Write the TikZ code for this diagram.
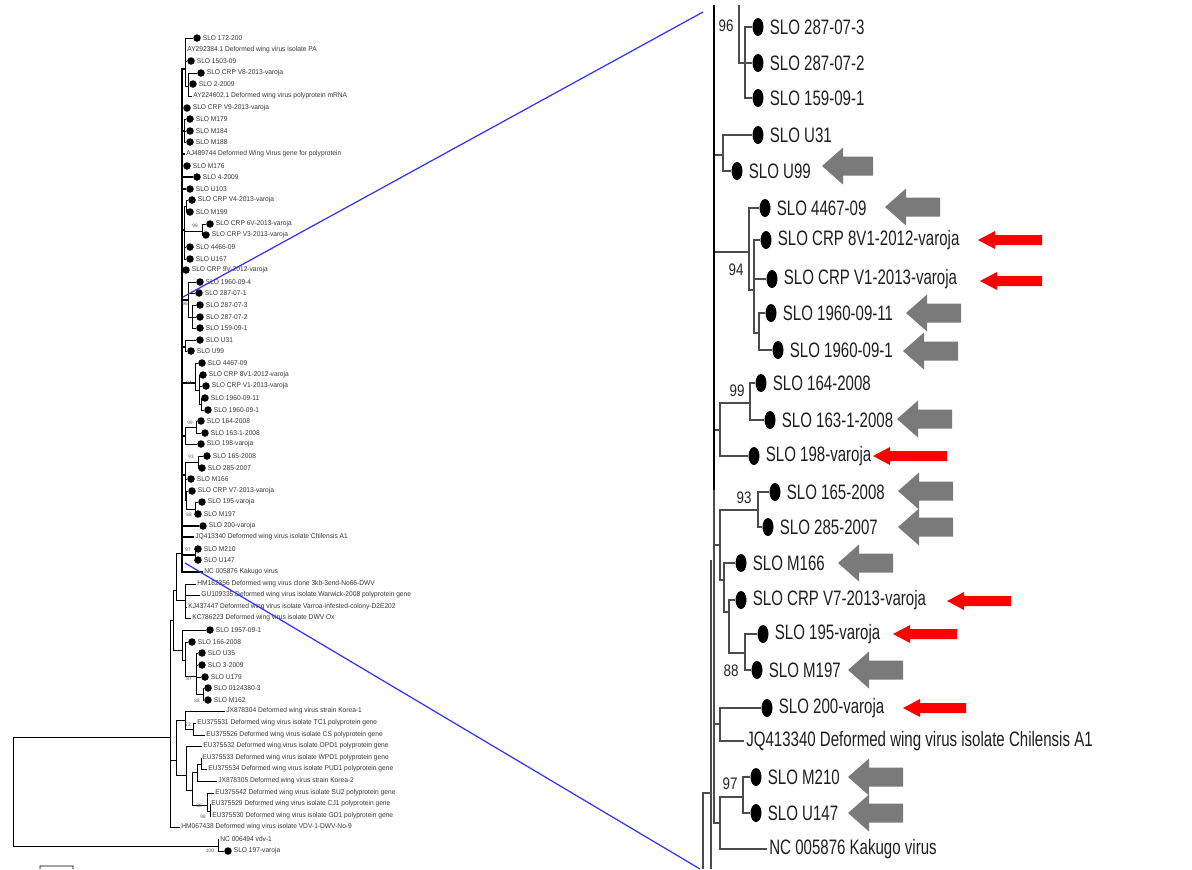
\documentclass[tikz,border=0pt]{standalone}
\usepackage{fontspec}
\setmainfont{Liberation Sans}
\newfontfamily\rfam[FakeStretch=0.72]{Liberation Sans}
\newfontfamily\bfam[FakeStretch=0.8]{Liberation Sans}
\newfontfamily\lfam[FakeStretch=0.95]{Liberation Sans}
\newcommand\rsz{\rfam\fontsize{11.9pt}{13pt}\selectfont}
\newcommand\bsz{\bfam\fontsize{9.5pt}{10pt}\selectfont}
\newcommand\lsz{\lfam\fontsize{3.97pt}{4.5pt}\selectfont}
\newcommand\lbsz{\lfam\fontsize{2.8pt}{3pt}\selectfont}
\usetikzlibrary{shapes.geometric}
\tikzset{
 lb/.style={line width=0.5pt, black},
 lbk/.style={line width=0.9pt, black},
 ldot/.style={circle, fill=black, inner sep=0pt, minimum size=0.15cm},
 ltxt/.style={anchor=west, inner sep=0pt, font=\lsz, text=black!78},
 lbs/.style={font=\lbsz, text=black!65, inner sep=0pt},
 rb/.style={line width=0.6pt, black!70},
 rmain/.style={line width=1.1pt, black},
 rdot/.style={ellipse, fill=black, inner sep=0pt, minimum width=0.22cm, minimum height=0.36cm},
 rtxt/.style={anchor=west, inner sep=0pt, font=\rsz, text=black!88},
 rbs/.style={font=\bsz, inner sep=0pt, text=black!85},
 garrow/.style={fill=black!52},
 rarrow/.style={fill=red},
 zoomline/.style={blue!80, line width=0.7pt}
}
\newcommand\Ld[4]{\node[ldot] (#1) at (#2,#3) {}; \node[ltxt] (#1t) at ([xshift=0.11cm]#1.center) {#4};}
\newcommand\Lt[4]{\node[ltxt, inner xsep=0.02cm] (#1) at (#2-1,#3) {#4};}
\newcommand\Rd[4]{\node[rdot] (#1) at (#2,#3) {}; \node[rtxt] (#1t) at ([xshift=0.23cm]#1.center) {#4};}
\newcommand\Rt[4]{\node[rtxt, inner xsep=0.05cm] (#1) at (#2-2.5,#3) {#4};}
\newcommand\garr[3]{\fill[garrow] (#1,#2) -- ++(21,-18.5) -- ++(0,9) -- ++(#3-21,0) -- ++(0,19) -- ++(21-#3,0) -- ++(0,9) -- cycle;}
\newcommand\rarr[3]{\fill[rarrow] (#1,#2) -- ++(17,-9) -- ++(0,4) -- ++(#3-17,0) -- ++(0,10) -- ++(17-#3,0) -- ++(0,4) -- cycle;}
\begin{document}
\begin{tikzpicture}[x=0.02cm, y=-0.02cm]
\useasboundingbox (0,0) rectangle (1192,869);
\fill[white] (0,0) rectangle (1192,869);

% ---------------- LEFT TREE: leaves ----------------
\Ld{l1}{197}{38}{SLO 172-200}
\Lt{l2}{187}{50}{AY292384.1 Deformed wing virus isolate PA}
\Ld{l3}{191}{61}{SLO 1503-09}
\Ld{l4}{201}{73}{SLO CRP V8-2013-varoja}
\Ld{l5}{193}{84}{SLO 2-2009}
\Lt{l6}{193}{96}{AY224602.1 Deformed wing virus polyprotein mRNA}
\Ld{l7}{187}{108}{SLO CRP V9-2013-varoja}
\Ld{l8}{190}{119}{SLO M179}
\Ld{l9}{190}{131}{SLO M184}
\Ld{l10}{190}{142}{SLO M188}
\Lt{l11}{186}{154}{AJ489744 Deformed Wing Virus gene for polyprotein}
\Ld{l12}{187}{166}{SLO M176}
\Ld{l13}{197}{177}{SLO 4-2009}
\Ld{l14}{190}{189}{SLO U103}
\Ld{l15}{192}{200}{SLO CRP V4-2013-varoja}
\Ld{l16}{190}{212}{SLO M199}
\Ld{l17}{210}{224}{SLO CRP 6V-2013-varoja}
\Ld{l18}{206}{235}{SLO CRP V3-2013-varoja}
\Ld{l19}{190}{247}{SLO 4466-09}
\Ld{l20}{190}{259}{SLO U167}
\Ld{l21}{186}{270}{SLO CRP 9V-2012-varoja}
\Ld{l22}{200}{282}{SLO 1960-09-4}
\Ld{l23}{199}{293}{SLO 287-07-1}
\Ld{l24}{200}{305}{SLO 287-07-3}
\Ld{l25}{200}{317}{SLO 287-07-2}
\Ld{l26}{200}{328}{SLO 159-09-1}
\Ld{l27}{200}{340}{SLO U31}
\Ld{l28}{191}{351}{SLO U99}
\Ld{l29}{202}{363}{SLO 4467-09}
\Ld{l30}{203}{375}{SLO CRP 8V1-2012-varoja}
\Ld{l31}{206}{386}{SLO CRP V1-2013-varoja}
\Ld{l32}{205}{398}{SLO 1960-09-11}
\Ld{l33}{208}{410}{SLO 1960-09-1}
\Ld{l34}{201}{421}{SLO 164-2008}
\Ld{l35}{205}{433}{SLO 163-1-2008}
\Ld{l36}{201}{444}{SLO 198-varoja}
\Ld{l37}{207}{456}{SLO 165-2008}
\Ld{l38}{202}{468}{SLO 285-2007}
\Ld{l39}{191}{479}{SLO M166}
\Ld{l40}{192}{491}{SLO CRP V7-2013-varoja}
\Ld{l41}{202}{502}{SLO 195-varoja}
\Ld{l42}{198}{514}{SLO M197}
\Ld{l43}{203}{526}{SLO 200-varoja}
\Lt{l44}{195}{537}{JQ413340 Deformed wing virus isolate Chilensis A1}
\Ld{l45}{198}{549}{SLO M210}
\Ld{l46}{198}{560}{SLO U147}
\Lt{l47}{204}{572}{NC 005876 Kakugo virus}
\Lt{l48}{197}{584}{HM162356 Deformed wing virus clone 3kb-3end-No66-DWV}
\Lt{l49}{201}{595}{GU109335 Deformed wing virus isolate Warwick-2008 polyprotein gene}
\Lt{l50}{188}{607}{KJ437447 Deformed wing virus isolate Varroa-infested-colony-D2E202}
\Lt{l51}{192}{618}{KC786223 Deformed wing virus isolate DWV Ox}
\Ld{l52}{210}{630}{SLO 1957-09-1}
\Ld{l53}{192}{642}{SLO 166-2008}
\Ld{l54}{202}{653}{SLO U35}
\Ld{l55}{202}{665}{SLO 3-2009}
\Ld{l56}{205}{677}{SLO U179}
\Ld{l57}{208}{688}{SLO 0124380-3}
\Ld{l58}{208}{700}{SLO M162}
\Lt{l59}{226}{711}{JX878304 Deformed wing virus strain Korea-1}
\Lt{l60}{197}{723}{EU375531 Deformed wing virus isolate TC1 polyprotein gene}
\Lt{l61}{206}{735}{EU375526 Deformed wing virus isolate CS polyprotein gene}
\Lt{l62}{203}{746}{EU375532 Deformed wing virus isolate OPD1 polyprotein gene}
\Lt{l63}{202}{758}{EU375533 Deformed wing virus isolate WPD1 polyprotein gene}
\Lt{l64}{208}{769}{EU375534 Deformed wing virus isolate PUD1 polyprotein gene}
\Lt{l65}{218}{781}{JX878305 Deformed wing virus strain Korea-2}
\Lt{l66}{215}{793}{EU375542 Deformed wing virus isolate SU2 polyprotein gene}
\Lt{l67}{211}{804}{EU375529 Deformed wing virus isolate CJ1 polyprotein gene}
\Lt{l68}{212}{816}{EU375530 Deformed wing virus isolate GD1 polyprotein gene}
\Lt{l69}{181}{827}{HM067438 Deformed wing virus isolate VDV-1-DWV-No-9}
\Lt{l70}{220}{839}{NC 006494 vdv-1}
\Ld{l71}{228}{851}{SLO 197-varoja}

% ---------------- LEFT TREE: internal nodes ----------------
\coordinate (B) at (182,553);
\coordinate (C1) at (185,69);
\coordinate (C1a) at (188,86);
\coordinate (C2) at (184,131);
\coordinate (C3) at (184,230);
\coordinate (C3a) at (186,206);
\coordinate (C98) at (202,231);
\coordinate (C4) at (188,300);
\coordinate (C96) at (192,317);
\coordinate (C5) at (185,347);
\coordinate (C94) at (195,383);
\coordinate (C94b) at (199,390);
\coordinate (C94c) at (201,404);
\coordinate (C6) at (185,436);
\coordinate (C99) at (196,427);
\coordinate (C7) at (185,475);
\coordinate (C93) at (198,462);
\coordinate (C7a) at (186,500);
\coordinate (C88) at (195,509);
\coordinate (C97) at (195,555);
\coordinate (N4) at (176,590);
\coordinate (HMg) at (185,600);
\coordinate (N2) at (173,620);
\coordinate (N5) at (182,650);
\coordinate (N6) at (185,660);
\coordinate (N87) at (196,676);
\coordinate (N88) at (203,694);
\coordinate (N1) at (170,737);
\coordinate (N3) at (176,760);
\coordinate (N7) at (185,720);
\coordinate (NTC) at (193,729);
\coordinate (N8) at (186,775);
\coordinate (N9) at (192,790);
\coordinate (N10) at (197,772);
\coordinate (N11) at (201,764);
\coordinate (N12) at (207,805);
\coordinate (N13) at (210,811);
\coordinate (R) at (13,790);
\coordinate (NV) at (218,846);

% ---------------- LEFT TREE: branches ----------------
\foreach \c in {C1,l7,C2,l11,l12,l13,l14,C3,l21,C4,C5,C94,C6,C7,l43,l44,C97,l47} \draw[lbk] (B) |- (\c);
\foreach \c in {l1,l2,l3,C1a} \draw[lb] (C1) |- (\c);
\foreach \c in {l4,l5,l6} \draw[lb] (C1a) |- (\c);
\foreach \c in {l8,l9,l10} \draw[lb] (C2) |- (\c);
\foreach \c in {C3a,C98,l19,l20} \draw[lb] (C3) |- (\c);
\foreach \c in {l15,l16} \draw[lb] (C3a) |- (\c);
\foreach \c in {l17,l18} \draw[lb] (C98) |- (\c);
\foreach \c in {l22,l23,C96} \draw[lb] (C4) |- (\c);
\foreach \c in {l24,l25,l26} \draw[lb] (C96) |- (\c);
\foreach \c in {l27,l28} \draw[lb] (C5) |- (\c);
\foreach \c in {l29,C94b} \draw[lb] (C94) |- (\c);
\foreach \c in {l30,l31,C94c} \draw[lb] (C94b) |- (\c);
\foreach \c in {l32,l33} \draw[lb] (C94c) |- (\c);
\foreach \c in {C99,l36} \draw[lb] (C6) |- (\c);
\foreach \c in {l34,l35} \draw[lb] (C99) |- (\c);
\foreach \c in {C93,l39,C7a} \draw[lb] (C7) |- (\c);
\foreach \c in {l37,l38} \draw[lb] (C93) |- (\c);
\foreach \c in {l40,C88} \draw[lb] (C7a) |- (\c);
\foreach \c in {l41,l42} \draw[lb] (C88) |- (\c);
\foreach \c in {l45,l46} \draw[lb] (C97) |- (\c);
\foreach \c in {B,HMg} \draw[lb] (N4) |- (\c);
\foreach \c in {l48,l49,l50,l51} \draw[lb] (HMg) |- (\c);
\foreach \c in {N4,N5} \draw[lb] (N2) |- (\c);
\foreach \c in {l52,N6} \draw[lb] (N5) |- (\c);
\foreach \c in {l53,N87} \draw[lb] (N6) |- (\c);
\foreach \c in {l54,l55,l56,N88} \draw[lb] (N87) |- (\c);
\foreach \c in {l57,l58} \draw[lb] (N88) |- (\c);
\foreach \c in {N2,N3,l69} \draw[lb] (N1) |- (\c);
\foreach \c in {N7,N8} \draw[lb] (N3) |- (\c);
\foreach \c in {l59,NTC} \draw[lb] (N7) |- (\c);
\foreach \c in {l60,l61} \draw[lb] (NTC) |- (\c);
\foreach \c in {l62,N9} \draw[lb] (N8) |- (\c);
\foreach \c in {N10,N12} \draw[lb] (N9) |- (\c);
\foreach \c in {N11,l65} \draw[lb] (N10) |- (\c);
\foreach \c in {l63,l64} \draw[lb] (N11) |- (\c);
\foreach \c in {l66,N13} \draw[lb] (N12) |- (\c);
\foreach \c in {l67,l68} \draw[lb] (N13) |- (\c);
\foreach \c in {N1,NV} \draw[lb] (R) |- (\c);
\foreach \c in {l70,l71} \draw[lb] (NV) |- (\c);

% left bootstrap values
\node[lbs] (lb1) at (195,226) {98};
\node[lbs] (lb2) at (185,304) {96};
\node[lbs] (lb3) at (189,383) {94};
\node[lbs] (lb4) at (190,423) {99};
\node[lbs] (lb5) at (191,457) {93};
\node[lbs] (lb6) at (189,515) {88};
\node[lbs] (lb7) at (188,550) {97};
\node[lbs] (lb8) at (189,679) {87};
\node[lbs] (lb9) at (197,701) {88};
\node[lbs] (lb10) at (188,725) {73};
\node[lbs] (lb11) at (199,806) {88};
\node[lbs] (lb12) at (203,817) {98};
\node[lbs] (lb13) at (210,851) {100};

% scale bar
\coordinate (sb1) at (40,869);
\coordinate (sb2) at (73,869);
\draw[lb] (sb1) -- ++(0,-3) -- ([yshift=0.06cm]sb2) -- (sb2);

% ---------------- zoom lines ----------------
\coordinate (zA) at (183,297);
\coordinate (zB) at (703,12);
\coordinate (zC) at (185,563);
\coordinate (zD) at (700,869);
\draw[zoomline] (zA) -- (zB);
\draw[zoomline] (zC) -- (zD);

% ---------------- RIGHT TREE: leaves ----------------
\Rd{r1}{758}{27}{SLO 287-07-3}
\Rd{r2}{758}{63}{SLO 287-07-2}
\Rd{r3}{758}{98}{SLO 159-09-1}
\Rd{r4}{758}{135}{SLO U31}
\Rd{r5}{737}{171}{SLO U99}
\Rd{r6}{765}{208}{SLO 4467-09}
\Rd{r7}{766}{240}{SLO CRP 8V1-2012-varoja}
\Rd{r8}{772}{279}{SLO CRP V1-2013-varoja}
\Rd{r9}{771}{313}{SLO 1960-09-11}
\Rd{r10}{778}{350}{SLO 1960-09-1}
\Rd{r11}{761}{383}{SLO 164-2008}
\Rd{r12}{770}{420}{SLO 163-1-2008}
\Rd{r13}{754}{456}{SLO 198-varoja}
\Rd{r14}{775}{492}{SLO 165-2008}
\Rd{r15}{768}{527}{SLO 285-2007}
\Rd{r16}{741}{563}{SLO M166}
\Rd{r17}{741}{600}{SLO CRP V7-2013-varoja}
\Rd{r18}{763}{634}{SLO 195-varoja}
\Rd{r19}{757}{670}{SLO M197}
\Rd{r20}{767}{708}{SLO 200-varoja}
\Rt{r21}{746}{741}{JQ413340 Deformed wing virus isolate Chilensis A1}
\Rd{r22}{756}{777}{SLO M210}
\Rd{r23}{756}{813}{SLO U147}
\Rt{r24}{769}{849}{NC 005876 Kakugo virus}

% ---------------- RIGHT TREE: internal nodes ----------------
\coordinate (rTop) at (739,5);
\coordinate (rQ96) at (745,63);
\coordinate (rMtop) at (714,5);
\coordinate (rMmid) at (714,490);
\coordinate (rMain) at (714,450);
\coordinate (rQ1) at (723,155);
\coordinate (rQ94) at (749,252);
\coordinate (rQB) at (754,290);
\coordinate (rQC) at (759,333);
\coordinate (rQD) at (720,430);
\coordinate (rQ99) at (750,403);
\coordinate (rQE) at (720,545);
\coordinate (rQ93) at (758,510);
\coordinate (rQF) at (724,580);
\coordinate (rQG) at (729,612);
\coordinate (rQ88) at (745,653);
\coordinate (rQH) at (720,724);
\coordinate (rQI) at (720,823);
\coordinate (rQ97) at (743,797);
\coordinate (rX1) at (711,560);
\coordinate (rX2) at (711,869);
\coordinate (rX3) at (703,869);
\coordinate (rX4) at (711,793);

% ---------------- RIGHT TREE: branches ----------------
\draw[rb] (rTop) |- (rQ96);
\foreach \c in {r1,r2,r3} \draw[rb] (rQ96) |- (\c);
\foreach \c in {rQ1,rQ94,rQD,rQE,rQH,rQI} \draw[rb] (rMain) |- (\c);
\foreach \c in {r4,r5} \draw[rb] (rQ1) |- (\c);
\foreach \c in {r6,rQB} \draw[rb] (rQ94) |- (\c);
\foreach \c in {r7,r8,rQC} \draw[rb] (rQB) |- (\c);
\foreach \c in {r9,r10} \draw[rb] (rQC) |- (\c);
\foreach \c in {rQ99,r13} \draw[rb] (rQD) |- (\c);
\foreach \c in {r11,r12} \draw[rb] (rQ99) |- (\c);
\foreach \c in {rQ93,rQF} \draw[rb] (rQE) |- (\c);
\foreach \c in {r14,r15} \draw[rb] (rQ93) |- (\c);
\foreach \c in {r16,rQG} \draw[rb] (rQF) |- (\c);
\foreach \c in {r17,rQ88} \draw[rb] (rQG) |- (\c);
\foreach \c in {r18,r19} \draw[rb] (rQ88) |- (\c);
\foreach \c in {r20,r21} \draw[rb] (rQH) |- (\c);
\foreach \c in {rQ97,r24} \draw[rb] (rQI) |- (\c);
\foreach \c in {r22,r23} \draw[rb] (rQ97) |- (\c);
\draw[rb] (rX1) -- (rX2);
\draw[rb] (rX3) |- (rX4);
\draw[rmain] (rMtop) -- (rMmid);

% right bootstrap values
\node[rbs] (rb1) at (726,26) {96};
\node[rbs] (rb2) at (736,270) {94};
\node[rbs] (rb3) at (737,391) {99};
\node[rbs] (rb4) at (744,498) {93};
\node[rbs] (rb5) at (731,671) {88};
\node[rbs] (rb6) at (730,784) {97};

% ---------------- arrows ----------------
\garr{822}{166}{51}
\garr{885}{207}{55}
\garr{906}{313}{55}
\garr{903}{351}{55}
\garr{897}{419}{55}
\garr{898}{491}{55}
\garr{898}{527}{55}
\garr{838}{563}{55}
\garr{848}{670}{55}
\garr{848}{777}{55}
\garr{848}{813}{55}
\rarr{978}{240}{64}
\rarr{980}{281}{62}
\rarr{873}{456}{74}
\rarr{947}{601}{64}
\rarr{893}{634}{64}
\rarr{903}{708}{63}
\end{tikzpicture}
\end{document}
